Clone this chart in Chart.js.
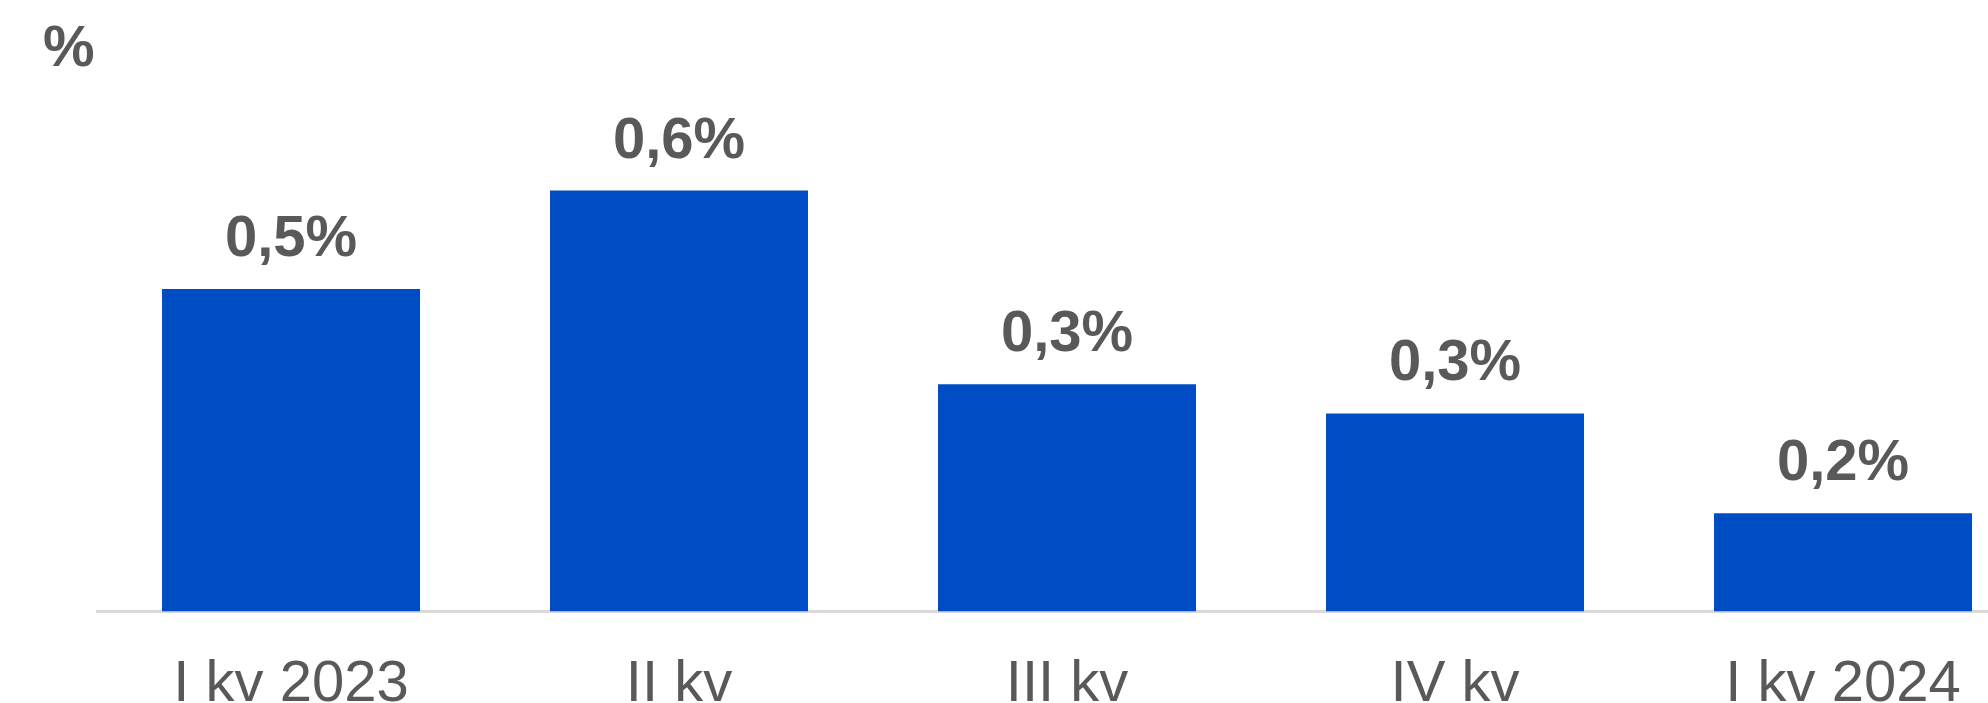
<!DOCTYPE html>
<html>
<head>
<meta charset="utf-8">
<script src="https://cdn.jsdelivr.net/npm/chart.js@4/dist/chart.umd.min.js"></script>
<style>
	html, body { margin: 0; padding: 0; background: #ffffff; overflow: hidden; }
	#wrap { position: absolute; left: 0; top: 0; width: 2037px; height: 758px; }
</style>
</head>
<body>
<div id="wrap"><canvas id="mycanvas"></canvas></div>
<script>
// quarters
var quarters = ["I kv 2023", "II kv", "III kv", "IV kv", "I kv 2024"];
// growth, %
var growth = [0.495, 0.646, 0.349, 0.304, 0.151];
// labels printed above the bars
var growthLabels = ["0,5%", "0,6%", "0,3%", "0,3%", "0,2%"];
var unitLabel = "%";

var textColor = "#595959";

// value labels above bars + unit in top-left corner
var labelPlugin = {
	id: "barLabels",
	afterDatasetsDraw: function(chart) {
		var ctx = chart.ctx;
		var meta = chart.getDatasetMeta(0);
		ctx.save();
		ctx.fillStyle = textColor;
		ctx.font = "bold 58px 'Liberation Sans', Arial, sans-serif";
		ctx.textAlign = "center";
		ctx.textBaseline = "alphabetic";
		for (var i = 0; i < meta.data.length; i++) {
			var bar = meta.data[i];
			ctx.fillText(growthLabels[i], bar.x, bar.y - 33);
		}
		ctx.textAlign = "left";
		ctx.fillText(unitLabel, 43, 66);
		ctx.restore();
	}
};

var chartdata = {
	labels: quarters,
	datasets: [
		{
			label: "growth",
			data: growth,
			backgroundColor: "#004cc4",
			borderWidth: 0,
			categoryPercentage: 1,
			barPercentage: 0.665
		}
	]
};

var ctx = document.getElementById("mycanvas");

var BarGraph = new Chart(ctx, {
	type: "bar",
	data: chartdata,
	plugins: [labelPlugin],
	options: {
		responsive: true,
		maintainAspectRatio: false,
		animation: false,
		layout: { padding: { left: 97, right: 0, top: 25, bottom: 0 } },
		plugins: {
			legend: { display: false },
			tooltip: { enabled: false }
		},
		scales: {
			x: {
				grid: { display: false, drawTicks: false },
				border: { display: true, color: "#d9d9d9", width: 3 },
				ticks: {
					color: textColor,
					padding: 50,
					font: { family: "'Liberation Sans', Arial, sans-serif", size: 58, lineHeight: 0.8 }
				}
			},
			y: {
				display: false,
				min: 0,
				max: 0.9
			}
		}
	}
});
</script>
</body>
</html>
